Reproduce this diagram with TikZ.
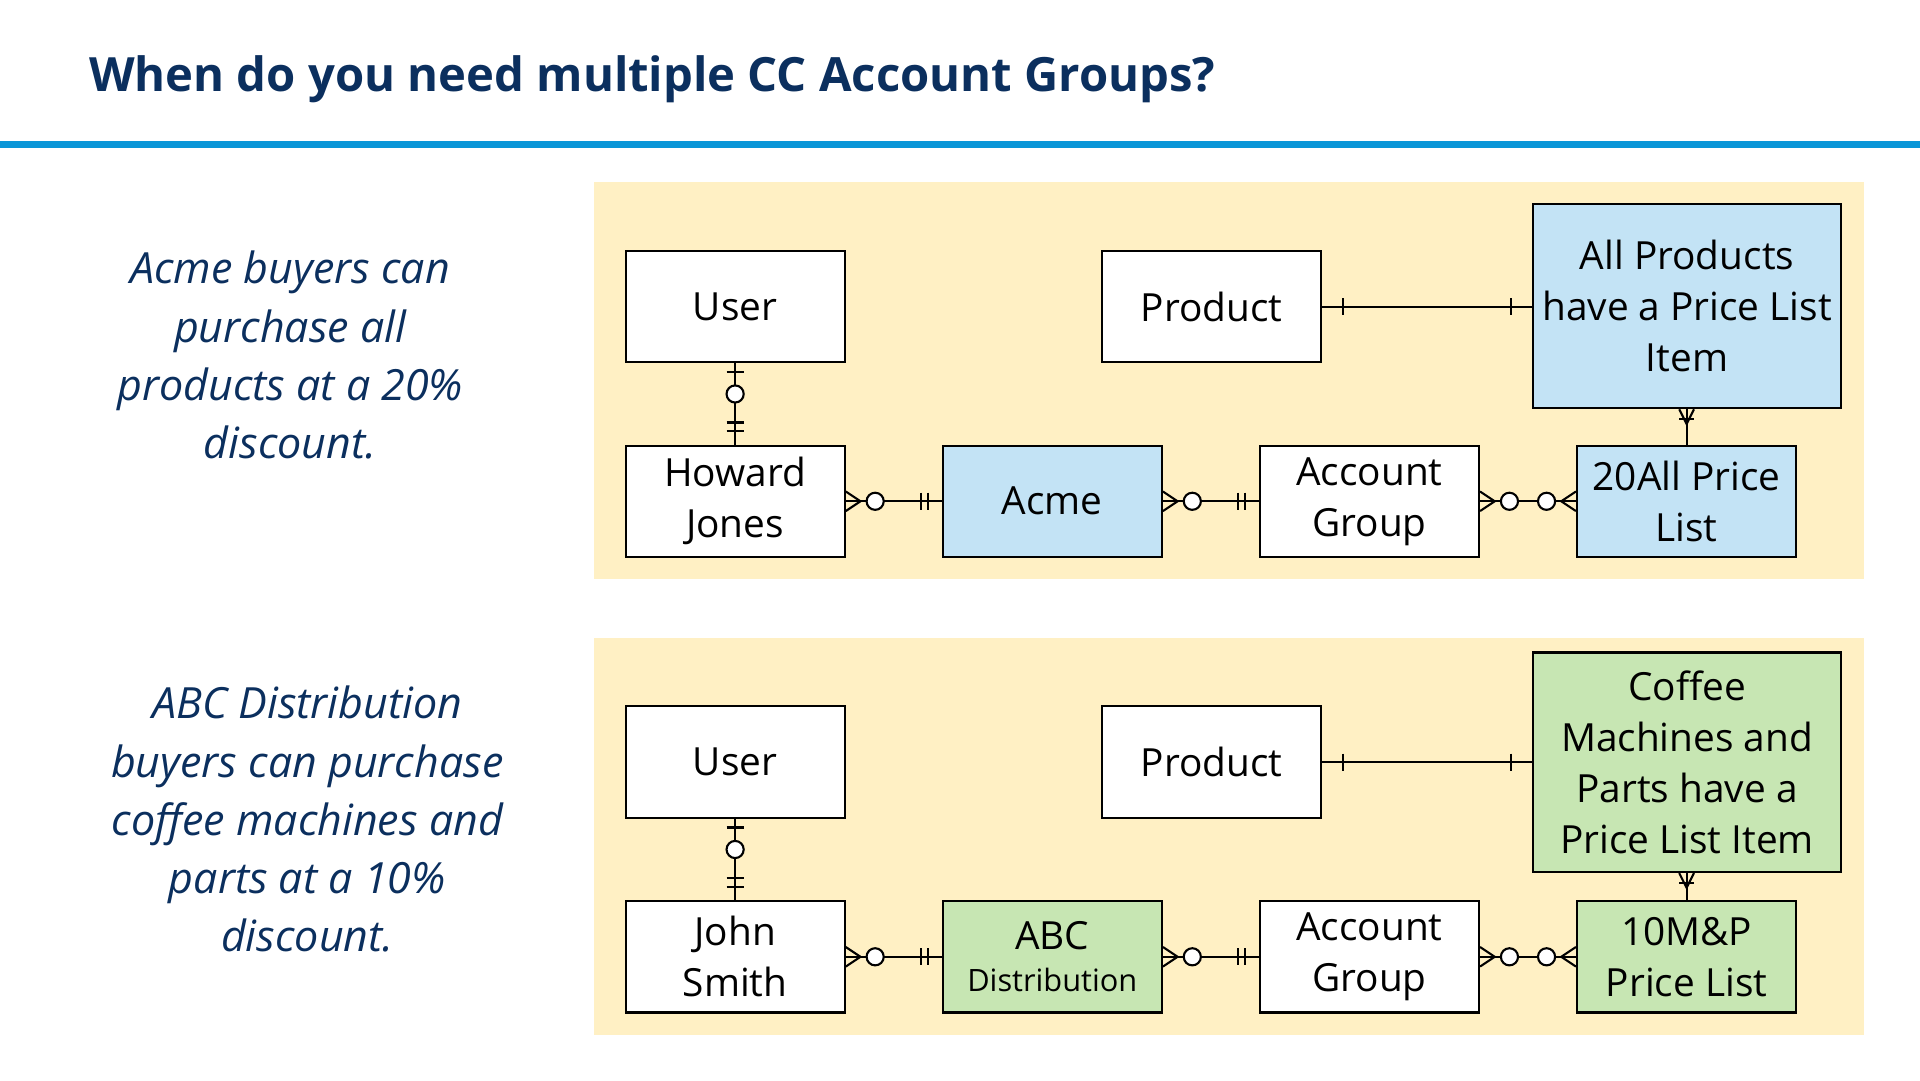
\documentclass[tikz,border=0pt]{standalone}
\usepackage{fontspec}
\setmainfont{Open Sans}
\newfontfamily\titlefont{Open Sans}
\usetikzlibrary{calc}
\definecolor{navy}{HTML}{0B2F5E}
\definecolor{rule}{HTML}{0A96D8}
\definecolor{panel}{HTML}{FFF0C4}
\definecolor{blu}{HTML}{C3E3F5}
\definecolor{grn}{HTML}{C7E6B3}
\begin{document}
\begin{tikzpicture}[x=0.010204cm,y=-0.010204cm,
  ent/.style={draw=black,line width=0.5pt,fill=white,minimum width=1.827cm,minimum height=0.929cm,inner sep=1pt,align=center,font=\fontsize{9.2}{12.1}\selectfont},
  capt/.style={text=navy,align=center,font=\fontsize{10.2}{13.8}\selectfont\itshape},
  cn/.style={line width=0.5pt},
  ci/.style={line width=0.5pt,fill=white}]
\useasboundingbox (0,0) rectangle (1568,882);
\node[anchor=base west,inner sep=0pt,text=navy,font=\titlefont\bfseries\fontsize{11.2}{14}\selectfont] (title) at (72,75) {When do you need multiple CC Account Groups?};
\draw[rule,line width=1.6pt] (0,118) -- (1568,118);
\foreach \o/\p in {0/a,372/b}{
  \fill[panel] (485,149+\o) rectangle (1522,473+\o);
}
% panel 1
\node[capt] (t1) at (237,290) {Acme buyers can\\purchase all\\products at a 20\%\\discount.};
\node[ent,anchor=north west] (u1) at (510,204) {User};
\node[ent,anchor=north west] (p1) at (899,204) {Product};
\node[ent,anchor=north west,fill=blu,minimum width=2.57cm,minimum height=1.70cm] (l1) at (1251,166) {All Products\\have a Price List\\Item};
\node[ent,anchor=north west] (h1) at (510,363) {Howard\\Jones};
\node[ent,anchor=north west,fill=blu] (a1) at (769,363) {Acme};
\node[ent,anchor=north west] (g1) at (1028,363) {Account\\Group};
\node[ent,anchor=north west,fill=blu] (r1) at (1287,363) {20All Price\\List};
% panel 2
\node[capt] (t2) at (251,669) {ABC Distribution\\buyers can purchase\\coffee machines and\\parts at a 10\%\\discount.};
\node[ent,anchor=north west] (u2) at (510,576) {User};
\node[ent,anchor=north west] (p2) at (899,576) {Product};
\node[ent,anchor=north west,fill=grn,minimum width=2.57cm,minimum height=1.83cm] (l2) at (1251,532) {Coffee\\Machines and\\Parts have a\\Price List Item};
\node[ent,anchor=north west] (h2) at (510,735) {John\\Smith};
\node[ent,anchor=north west,fill=grn] (a2) at (769,735) {ABC\\[-2pt]{\fontsize{7.3}{9}\selectfont Distribution}};
\node[ent,anchor=north west] (g2) at (1028,735) {Account\\Group};
\node[ent,anchor=north west,fill=grn] (r2) at (1287,735) {10M\&P\\Price List};
\foreach \n in {1,2}{
  % user - person
  \draw[cn] (u\n.south) -- (h\n.north);
  \draw[cn] ($(u\n.south)+(-7,7)$) -- ++(14,0);
  \draw[ci] ($(u\n.south)+(0,25)$) circle (7);
  \draw[cn] ($(h\n.north)+(-7,-18)$) -- ++(14,0) ($(h\n.north)+(-7,-11)$) -- ++(14,0);
  % product - list
  \draw[cn] (p\n.east|-p\n.east) -- (l\n.west|-p\n.east);
  \draw[cn] ($(p\n.east)+(17,-7)$) -- ++(0,14);
  \draw[cn] ($(l\n.west|-p\n.east)+(-17,-7)$) -- ++(0,14);
  % list - pricelist
  \draw[cn] (l\n.south-|r\n.north) -- (r\n.north);
  \draw[cn] ($(l\n.south-|r\n.north)+(-6,0)$) -- ++(6,12) -- ++(6,-12);
  \draw[cn] ($(l\n.south-|r\n.north)+(-6,8)$) -- ++(12,0);
  % zero-many to one
  \foreach \s/\t in {h/a,a/g}{
    \draw[cn] (\s\n.east) -- (\t\n.west);
    \draw[cn] ($(\s\n.east)+(0,-8)$) -- ++(12,8) -- ++(-12,8);
    \draw[ci] ($(\s\n.east)+(24,0)$) circle (7);
    \draw[cn] ($(\t\n.west)+(-17,-7)$) -- ++(0,14) ($(\t\n.west)+(-11,-7)$) -- ++(0,14);
  }
  % many-many
  \draw[cn] (g\n.east) -- (r\n.west);
  \draw[cn] ($(g\n.east)+(0,-8)$) -- ++(12,8) -- ++(-12,8);
  \draw[ci] ($(g\n.east)+(24,0)$) circle (7);
  \draw[cn] ($(r\n.west)+(0,-8)$) -- ++(-12,8) -- ++(12,8);
  \draw[ci] ($(r\n.west)+(-24,0)$) circle (7);
}
\end{tikzpicture}
\end{document}
